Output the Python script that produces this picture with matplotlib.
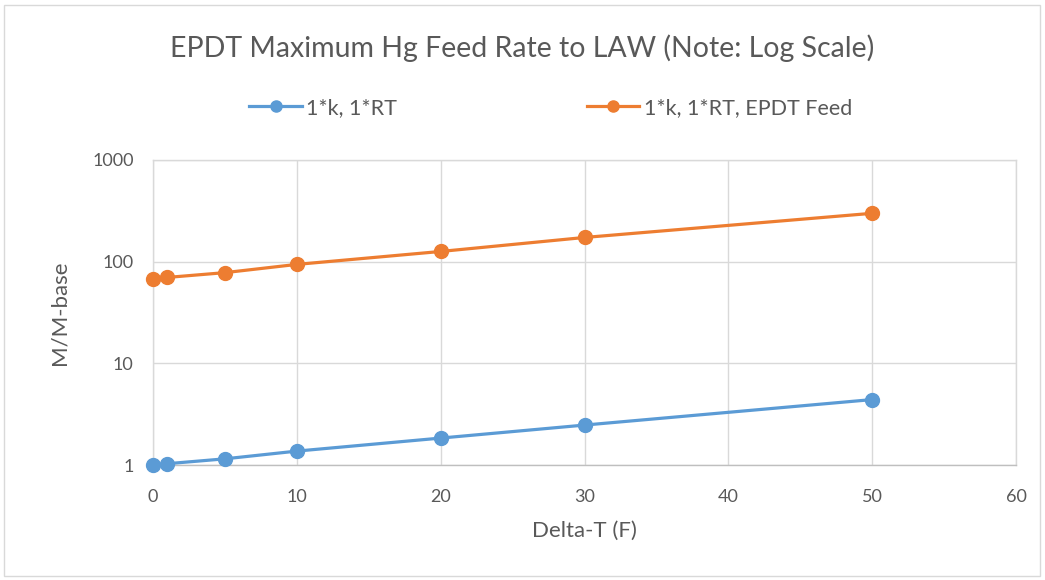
# EPDT maximum Hg feed rate, log-scale line chart
import numpy as np
import matplotlib.pyplot as plt
from matplotlib.patches import Rectangle
from matplotlib.ticker import FixedLocator, FixedFormatter, NullLocator

plt.rcParams['font.family'] = ['Lato', 'DejaVu Sans']

# data
delta_t = [0, 1, 5, 10, 20, 30, 50]
base_rt = [1.0, 1.03, 1.15, 1.37, 1.84, 2.47, 4.4]
epdt_feed = [68, 70, 78, 94, 126, 173, 299]

series_labels = ['1*k, 1*RT', '1*k, 1*RT, EPDT Feed']
x_ticks = [0, 10, 20, 30, 40, 50, 60]
y_ticks = [1, 10, 100, 1000]
y_tick_labels = ['1', '10', '100', '1000']

blue = '#5B9BD5'
orange = '#ED7D31'
text_gray = '#595959'
grid_gray = '#D9D9D9'

fig = plt.figure(figsize=(10.45, 5.8), dpi=100)
ax = fig.add_axes([153 / 1045, 1 - 465 / 580, (1016 - 153) / 1045, (465 - 160) / 580])

ax.plot(delta_t, base_rt, color=blue, lw=2.3, marker='o', ms=10,
        label=series_labels[0], clip_on=False, zorder=3)
ax.plot(delta_t, epdt_feed, color=orange, lw=2.3, marker='o', ms=10,
        label=series_labels[1], clip_on=False, zorder=3)

ax.set_yscale('log')
ax.set_ylim(1, 1000)
ax.set_xlim(0, 60)
ax.yaxis.set_major_locator(FixedLocator(y_ticks))
ax.yaxis.set_major_formatter(FixedFormatter(y_tick_labels))
ax.yaxis.set_minor_locator(NullLocator())
ax.set_xticks(x_ticks)

ax.grid(True, color=grid_gray, lw=1)
ax.set_axisbelow(True)
for s in ax.spines.values():
    s.set_color(grid_gray)
    s.set_linewidth(1)
ax.spines['bottom'].set_color('#BFBFBF')
ax.tick_params(length=0, labelsize=13, labelcolor=text_gray, pad=14)
ax.tick_params(axis='x', pad=17)

ax.set_xlabel('Delta-T (F)', fontsize=16, color=text_gray, labelpad=12)
ax.set_ylabel('M/M-base', fontsize=16, color=text_gray, labelpad=16)

fig.text(0.5, 1 - 48 / 580, 'EPDT Maximum Hg Feed Rate to LAW (Note: Log Scale)',
         ha='center', va='center', fontsize=20.5, color=text_gray)

fig.legend(loc='center', bbox_to_anchor=(0.527, 1 - 108 / 580), ncol=2, frameon=False,
           fontsize=15.5, labelcolor=text_gray, handlelength=2.45, handletextpad=0.2,
           columnspacing=8.8, markerscale=0.8)

# outer chart border
fig.patches.append(Rectangle((4 / 1045, 4 / 580), 1 - 9 / 1045, 1 - 9 / 580,
                             transform=fig.transFigure, fill=False,
                             edgecolor='#D9D9D9', lw=1))

fig.savefig('out.png', dpi=100)
